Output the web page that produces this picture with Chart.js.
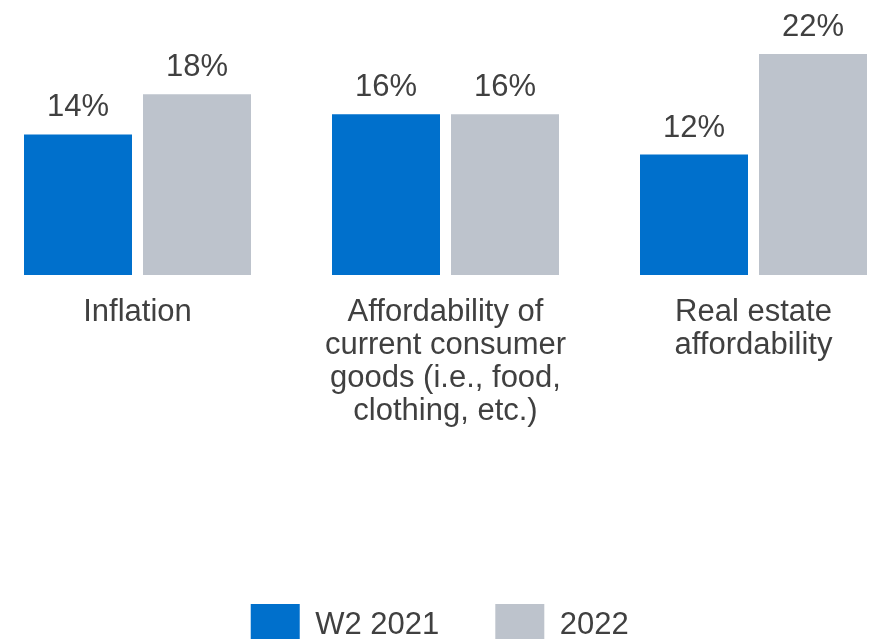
<!DOCTYPE html>
<html>
<head>
<meta charset="utf-8">
<title>Concerns</title>
<script src="https://cdn.jsdelivr.net/npm/chart.js@4/dist/chart.umd.min.js"></script>
<style>
  html, body {
    margin: 0;
    padding: 0;
    background: #ffffff;
    overflow: hidden;
    width: 872px;
    height: 639px;
  }
  #wrap {
    position: absolute;
    left: -28px;
    top: 0;
    width: 936px;
    height: 660px;
  }
</style>
</head>
<body>
<div id="wrap"><canvas id="myChart"></canvas></div>
<script>
'use strict';

// DATA
let categories = [
  ['Inflation'],
  ['Affordability of', 'current consumer', 'goods (i.e., food,', 'clothing, etc.)'],
  ['Real estate', 'affordability']
];
let seriesNames = ['W2 2021', '2022'];
let values2021 = [14, 16, 12];
let values2022 = [18, 16, 22];

let blue = '#0070CC';
let gray = '#BDC3CC';
let textColor = '#404040';
let fontFamily = "'Liberation Sans', Arial, Helvetica, sans-serif";
let fontSize = 31;

// draws the "14%" style labels over each bar
const valueLabels = {
  id: 'valueLabels',
  afterDatasetsDraw(chart) {
    let ctx = chart.ctx;
    ctx.save();
    ctx.font = fontSize + 'px ' + fontFamily;
    ctx.fillStyle = textColor;
    ctx.textAlign = 'center';
    ctx.textBaseline = 'alphabetic';
    chart.data.datasets.forEach((ds, i) => {
      let meta = chart.getDatasetMeta(i);
      meta.data.forEach((bar, j) => {
        ctx.fillText(ds.data[j] + '%', bar.x, bar.y - 18);
      });
    });
    ctx.restore();
  }
};

const data = {
  labels: categories,
  datasets: [
    {
      label: seriesNames[0],
      data: values2021,
      backgroundColor: blue,
      borderWidth: 0
    },
    {
      label: seriesNames[1],
      data: values2022,
      backgroundColor: gray,
      borderWidth: 0
    }
  ]
};

const config = {
  type: 'bar',
  data: data,
  plugins: [valueLabels],
  options: {
    responsive: true,
    maintainAspectRatio: false,
    animation: false,
    events: [],
    layout: {
      padding: { top: 24, bottom: 4, left: 0, right: 0.5 }
    },
    datasets: {
      bar: {
        categoryPercentage: 238 / 308,
        barPercentage: 108 / 119
      }
    },
    plugins: {
      tooltip: { enabled: false },
      legend: {
        position: 'bottom',
        labels: {
          boxWidth: 49,
          boxHeight: 42,
          padding: 56,
          color: textColor,
          font: { family: fontFamily, size: fontSize }
        }
      }
    },
    scales: {
      x: {
        offset: true,
        grid: { display: false, drawTicks: false },
        border: { display: false },
        ticks: {
          autoSkip: false,
          maxRotation: 0,
          padding: 20.5,
          color: textColor,
          font: { family: fontFamily, size: fontSize, lineHeight: '33px' }
        },
        afterFit(scale) {
          scale.height = 273;
        }
      },
      y: {
        min: 0,
        max: 25,
        grid: { display: false, drawTicks: false },
        border: { display: false },
        ticks: { display: false },
        afterFit(scale) {
          scale.width = 11.5;
        }
      }
    }
  }
};

const myChart = new Chart(document.getElementById('myChart'), config);
</script>
</body>
</html>
